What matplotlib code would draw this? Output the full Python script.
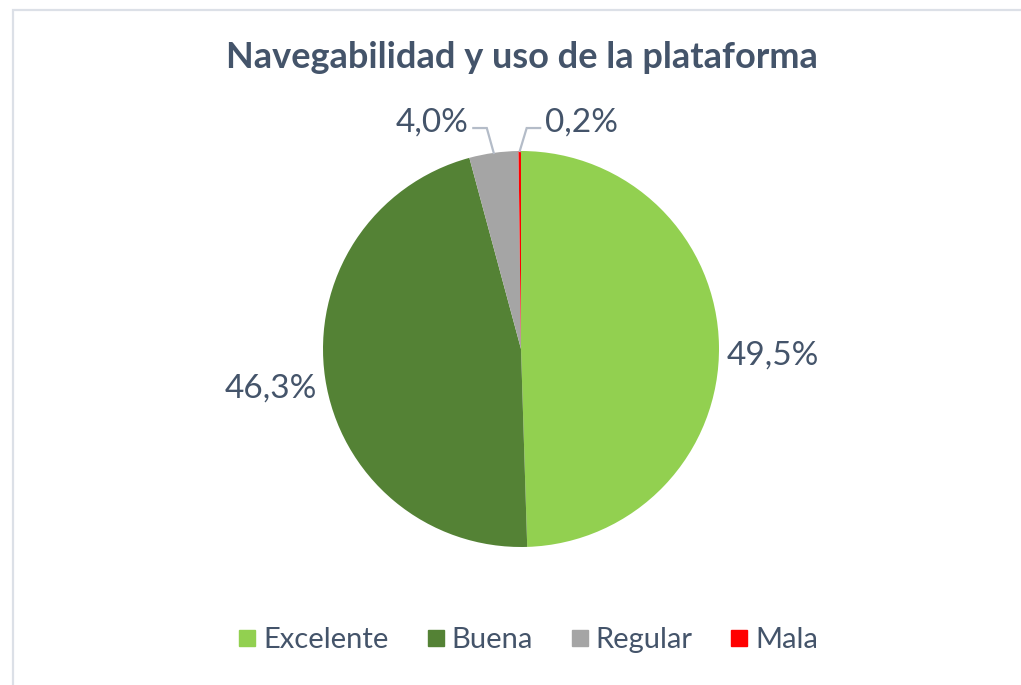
import numpy as np
import matplotlib
matplotlib.use("Agg")
import matplotlib.pyplot as plt
from matplotlib.patches import Rectangle
from matplotlib.lines import Line2D

categories = ["Excelente", "Buena", "Regular", "Mala"]
values = [49.5, 46.3, 4.0, 0.2]
colors = ["#92D050", "#548235", "#A5A5A5", "#FF0000"]
title = "Navegabilidad y uso de la plataforma"

# which side the small-slice labels go on (-1 left, +1 right)
small_side = {"Regular": -1, "Mala": 1}

txt_color = "#44546A"
plt.rcParams['font.family'] = ['Lato', 'DejaVu Sans']

W, H = 1021, 685
fig = plt.figure(figsize=(W / 100, H / 100), dpi=100)

# pie centre (px) and radius (px)
cx, cy, R = 521, 349, 198
k = 1.6
ax = fig.add_axes([(cx - R * k) / W, (H - cy - R * k) / H, 2 * R * k / W, 2 * R * k / H])
wedges, _ = ax.pie(values, colors=colors, startangle=90, counterclock=False,
                   wedgeprops=dict(linewidth=0))
ax.set_xlim(-k, k)
ax.set_ylim(-k, k)
ax.axis("off")

def fmt(v):
    return f"{v:.1f}%".replace(".", ",")

for w, v, name in zip(wedges, values, categories):
    mid = np.deg2rad((w.theta1 + w.theta2) / 2)
    c, s = np.cos(mid), np.sin(mid)
    if v > 10:
        side = 1 if c > 0 else -1
        ax.text(1.03 * c + side * 0.01, 1.03 * s - 0.05, fmt(v),
                ha="left" if side > 0 else "right", va="center",
                fontsize=24, color=txt_color)
    else:
        # small slices: leader line with elbow
        side = small_side[name]
        ex = c + side * 0.035
        ey = 1.116
        x2 = ex + side * 0.068
        ax.plot([c, ex, x2], [s, ey, ey], color="#B4BCC8", lw=1.6,
                solid_joinstyle="miter")
        ax.text(x2 + side * 0.025, ey + 0.03, fmt(v), ha="left" if side > 0 else "right",
                va="center", fontsize=24, color=txt_color)

fig.text(522 / W, 1 - 58 / H, title, ha="center", va="center", fontsize=26,
         fontweight="bold", color=txt_color)

handles = [Line2D([], [], marker="s", linestyle="none", markersize=11,
                  markerfacecolor=col, markeredgecolor=col) for col in colors]
fig.legend(handles, categories, loc="center", bbox_to_anchor=(527 / W, 1 - 640 / H),
           ncol=4, frameon=False, fontsize=21, labelcolor=txt_color,
           handletextpad=0.15, columnspacing=1.2, handlelength=0.8)

fig.patches.append(Rectangle((12.5 / W, -0.05), 1.1, 1 - 9.5 / H + 0.05,
                             transform=fig.transFigure, fill=False,
                             edgecolor="#DCE0E7", lw=1.6))

fig.savefig("out.png", dpi=100)
